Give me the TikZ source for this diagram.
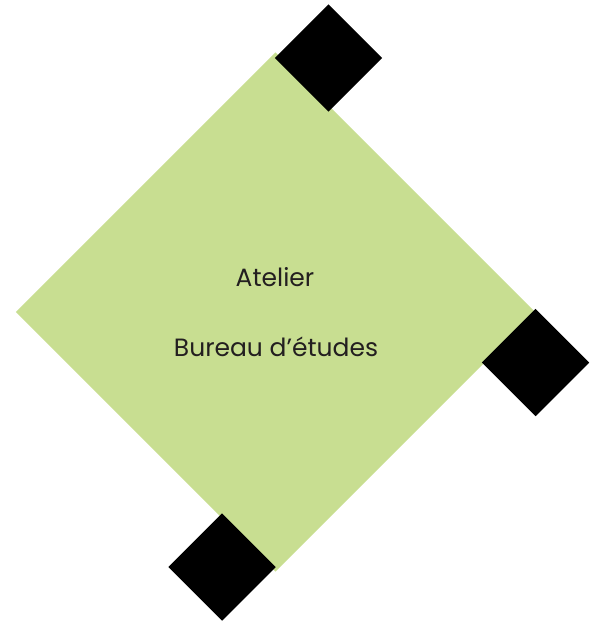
\documentclass[tikz,border=0pt]{standalone}
\usepackage{fontspec}
\setmainfont{Poppins}
\usetikzlibrary{positioning}
\definecolor{zonegreen}{RGB}{200,222,145}
\definecolor{inkgray}{RGB}{35,31,32}

\begin{document}
\begin{tikzpicture}[x=1pt, y=-1pt,
  zone/.style={fill=zonegreen, minimum size=367pt, inner sep=0pt, rotate=45},
  pad/.style={fill=black, minimum size=76pt, inner sep=0pt, rotate=45},
  lbl/.style={font=\fontsize{25}{30}\selectfont, text=inkgray}]
\useasboundingbox (0,0) rectangle (589,621);
% main area
\node[zone] (area) at (275.5,312) {};
% corner pads
\node[pad] (padtop) at (328.5,58) {};
\node[pad] (padright) at (535.5,362.5) {};
\node[pad] (padbottom) at (222,567) {};
% labels
\node[lbl] (atelier) at (275,277) {Atelier};
\node[lbl] (bureau) at (276,347) {Bureau d’études};
\end{tikzpicture}
\end{document}
